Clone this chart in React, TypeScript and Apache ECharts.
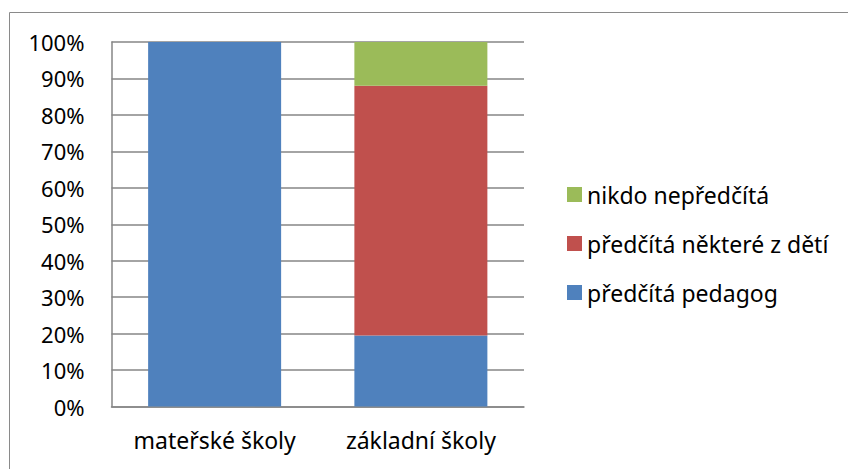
import React, { useEffect, useRef } from "react";
import * as echarts from "echarts";

const categories = ["mateřské školy", "základní školy"];
const pedagog = [100, 19.5];
const nektereZDeti = [0, 68.5];
const nikdo = [0, 12];
const seriesNames = ["předčítá pedagog", "předčítá některé z dětí", "nikdo nepředčítá"];
const legendOrder = ["nikdo nepředčítá", "předčítá některé z dětí", "předčítá pedagog"];

const FONT = "Noto Sans";

export default function App() {
  const ref = useRef<HTMLDivElement>(null);
  useEffect(() => {
    if (!ref.current) return;
    const chart = echarts.init(ref.current, undefined, { renderer: "svg" });
    chart.setOption({
      animation: false,
      backgroundColor: "#ffffff",
      textStyle: { fontFamily: FONT },
      graphic: [
        {
          type: "rect",
          shape: { x: 9.5, y: 12.5, width: 900, height: 500 },
          style: { fill: "none", stroke: "#8a8a8a", lineWidth: 1 },
          silent: true,
        },
      ],
      grid: { left: 111.5, right: 848 - 524, top: 42, bottom: 469 - 406.5, containLabel: false },
      legend: {
        orient: "vertical",
        left: 567,
        top: 183,
        padding: 0,
        itemWidth: 15,
        itemHeight: 15,
        itemGap: 26,
        icon: "rect",
        data: legendOrder,
        textStyle: { fontFamily: FONT, fontSize: 23, color: "#000", lineHeight: 23 },
      },
      xAxis: {
        type: "category",
        data: categories,
        axisLine: { show: true, lineStyle: { color: "#868686", width: 1.5 } },
        axisTick: { show: false },
        axisLabel: { fontFamily: FONT, fontSize: 23, color: "#000", margin: 22, interval: 0 },
      },
      yAxis: {
        type: "value",
        min: 0,
        max: 100,
        interval: 10,
        axisLine: { show: true, lineStyle: { color: "#868686", width: 1.5 } },
        axisTick: { show: false },
        axisLabel: { fontFamily: FONT, fontSize: 22, color: "#000", margin: 27, formatter: "{value}%" },
        splitLine: { show: true, lineStyle: { color: "#868686", width: 1.5 } },
      },
      series: [
        { name: seriesNames[0], type: "bar", stack: "a", data: pedagog, barWidth: 133, itemStyle: { color: "#4F81BD" } },
        { name: seriesNames[1], type: "bar", stack: "a", data: nektereZDeti, barWidth: 133, itemStyle: { color: "#C0504D" } },
        { name: seriesNames[2], type: "bar", stack: "a", data: nikdo, barWidth: 133, itemStyle: { color: "#9BBB59" } },
      ],
    });
    return () => chart.dispose();
  }, []);
  return (
    <div
      ref={ref}
      style={{ position: "fixed", left: 0, top: 0, width: 848, height: 469, background: "#fff" }}
    />
  );
}
